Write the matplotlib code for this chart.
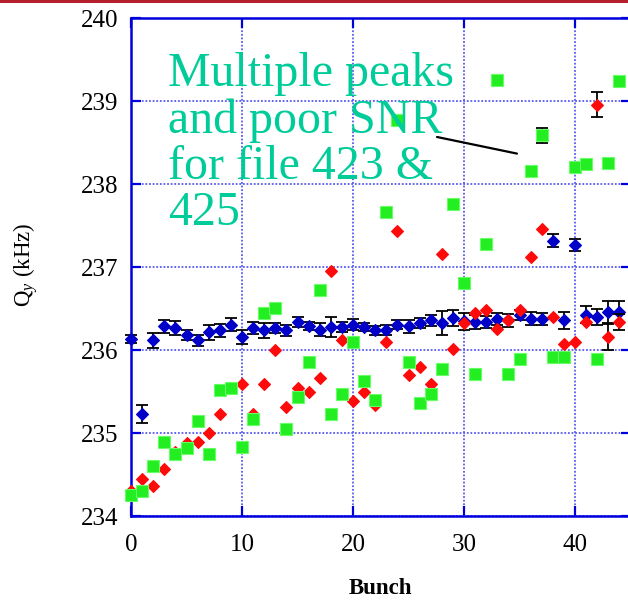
import numpy as np
import matplotlib
matplotlib.use("Agg")
import matplotlib.pyplot as plt
from matplotlib.patches import Rectangle

plt.rcParams['font.family'] = ['Liberation Serif', 'DejaVu Serif']
plt.rcParams['mathtext.fontset'] = 'custom'
plt.rcParams['mathtext.rm'] = 'Liberation Serif'
plt.rcParams['mathtext.it'] = 'Liberation Serif:italic'

# ---- data ----
bunch = np.arange(45)

blue_q = [236.14, 235.23, 236.12, 236.29, 236.27, 236.19, 236.12, 236.22, 236.24, 236.31,
          236.16, 236.27, 236.24, 236.27, 236.24, 236.34, 236.29, 236.25, 236.28, 236.28,
          236.31, 236.28, 236.24, 236.24, 236.31, 236.29, 236.33, 236.36, 236.33, 236.39,
          236.35, 236.34, 236.34, 236.38, 236.36, 236.43, 236.38, 236.38, 237.32, 236.36,
          237.27, 236.43, 236.40, 236.46, 236.46]
blue_err = [0.05, 0.11, 0.09, 0.08, 0.08, 0.06, 0.07, 0.09, 0.08, 0.08,
            0.09, 0.07, 0.09, 0.06, 0.07, 0.06, 0.05, 0.08, 0.12, 0.06,
            0.07, 0.05, 0.05, 0.06, 0.05, 0.08, 0.06, 0.07, 0.14, 0.10,
            0.10, 0.08, 0.07, 0.07, 0.08, 0.06, 0.08, 0.07, 0.08, 0.10,
            0.07, 0.10, 0.10, 0.13, 0.13]

red_q = [234.30, 234.45, 234.37, 234.57, 234.78, 234.88, 234.90, 235.00, 235.23, 235.55,
         235.60, 235.23, 235.60, 236.00, 235.32, 235.54, 235.50, 235.67, 236.96, 236.12,
         235.39, 235.50, 235.34, 236.10, 237.44, 235.70, 235.80, 235.60, 237.16, 236.02,
         236.33, 236.45, 236.49, 236.26, 236.37, 236.48, 237.12, 237.46, 236.40, 236.08,
         236.10, 236.34, 238.96, 236.16, 236.34]
red_err = [0] * 42 + [0.15, 0.16, 0.10]

green_q = [234.26, 234.30, 234.61, 234.89, 234.75, 234.82, 235.15, 234.75, 235.52, 235.55,
           234.83, 235.17, 236.45, 236.51, 235.05, 235.44, 235.86, 236.73, 235.23, 235.47,
           236.10, 235.63, 235.40, 237.67, 238.77, 235.86, 235.37, 235.47, 235.77, 237.76,
           236.81, 235.72, 237.28, 239.26, 235.72, 235.89, 238.16, 238.59, 235.92, 235.92,
           238.21, 238.24, 235.90, 238.26, 239.24]
green_err = [0] * 37 + [0.09] + [0] * 7

x_ticks = [0, 10, 20, 30, 40]
y_ticks = [234, 235, 236, 237, 238, 239, 240]
note_text = "Multiple peaks\nand poor SNR\nfor file 423 &\n425"

# ---- figure ----
W, H = 628, 601
fig = plt.figure(figsize=(W / 100, H / 100), dpi=100)
ax = fig.add_axes([131 / W, (H - 516.3) / H, 499.5 / W, 498 / H])

spine_c = '#0000dd'
grid_c = '#5a5af0'

def draw_series(y, err, marker, ms, color, ecolor, z):
    y = np.asarray(y, float)
    e = np.asarray(err, float)
    m = e > 0
    if m.any():
        ax.errorbar(bunch[m], y[m], yerr=e[m], fmt='none', ecolor='black',
                    elinewidth=1.3, capsize=4, capthick=1.3, zorder=z - 0.5,
                    clip_on=False)
    ax.plot(bunch, y, linestyle='none', marker=marker, ms=ms, mfc=color,
            mec=ecolor, mew=0.8, zorder=z, clip_on=False)

draw_series(blue_q, blue_err, 'D', 6.5, '#0000c8', '#0000c8', 3)
draw_series(red_q, red_err, 'D', 6.5, '#ff0a0a', '#ff0a0a', 4)
draw_series(green_q, green_err, 's', 8.8, '#22ee22', '#66ff66', 5)

ax.set_xlim(0, 45)
ax.set_ylim(234, 240)
ax.set_xticks(x_ticks)
ax.set_yticks(y_ticks)
ax.grid(True, color=grid_c, linestyle=(0, (1, 1)), linewidth=1.3, zorder=1)
ax.set_axisbelow(True)

for s in ax.spines.values():
    s.set_color(spine_c)
    s.set_linewidth(1.8)
ax.tick_params(axis='both', direction='in', length=7, width=1.6, color=spine_c,
               top=True, right=True, labelsize=18, labelcolor='black')
ax.tick_params(axis='x', pad=13)
ax.tick_params(axis='y', pad=9)

ax.annotate('', xy=(34.77, 238.37), xytext=(27.57, 238.57),
            arrowprops=dict(arrowstyle='-', color='black', lw=1.6,
                            shrinkA=0, shrinkB=0), zorder=6)

fig.text(168 / W, 1 - 52 / H, note_text, color='#00cc99', fontsize=34.5,
         ha='left', va='top', linespacing=1.06, zorder=10)

fig.text(26 / W, 1 - 265 / H, 'Q$_{y}$ (kHz)', rotation=90, fontsize=16.5,
         ha='center', va='center')
fig.text(380 / W, 1 - 589 / H, 'Bunch', fontsize=16.5, fontweight='bold',
         ha='center', va='center')

fig.add_artist(Rectangle((0, 1 - 3 / H), 1, 3 / H, transform=fig.transFigure,
                         facecolor='#b5202e', edgecolor='none'))

fig.savefig('out.png', dpi=100)
